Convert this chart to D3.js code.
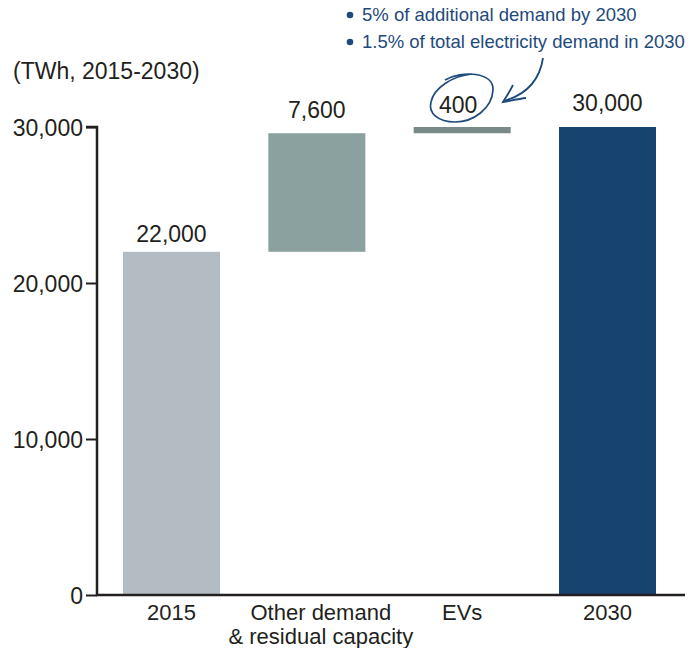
<!DOCTYPE html>
<html>
<head>
<meta charset="utf-8">
<script src="https://cdn.jsdelivr.net/npm/d3@7"></script>
<style>
  body { margin: 0; background: #fff; }
  text { font-family: "Liberation Sans", Arial, sans-serif; }
</style>
</head>
<body>
<div id="chart"></div>
<script>
// waterfall data
var categories = ["2015", "Other demand\n& residual capacity", "EVs", "2030"];
var starts = [0, 22000, 29600, 0];
var ends = [22000, 29600, 30000, 30000];
var labels = ["22,000", "7,600", "400", "30,000"];
var colors = ["#b3bcc2", "#8aa19f", "#788a88", "#174370"];
var yTicks = [0, 10000, 20000, 30000];
var notes = ["5% of additional demand by 2030", "1.5% of total electricity demand in 2030"];

var width = 700, height = 648;
var ink = "#231f20";
var svg = d3.select("#chart").append("svg")
    .attr("width", width)
    .attr("height", height);

var x = d3.scaleBand()
    .domain(categories)
    .range([98, 681])
    .paddingInner(0.3326)
    .paddingOuter(0.172);

var y = d3.scaleLinear()
    .domain([0, 30000])
    .range([595, 127]);

// bars
svg.selectAll("rect.bar")
    .data(categories)
    .enter().append("rect")
    .attr("class", "bar")
    .attr("x", function(d) { return x(d); })
    .attr("width", x.bandwidth())
    .attr("y", function(d, i) { return y(ends[i]); })
    .attr("height", function(d, i) { return y(starts[i]) - y(ends[i]); })
    .attr("fill", function(d, i) { return colors[i]; });

// value labels
var labelGap = [10, 15, 14, 16];
svg.selectAll("text.val")
    .data(categories)
    .enter().append("text")
    .attr("class", "val")
    .attr("x", function(d, i) { return x(d) + x.bandwidth() / 2 - (i === 2 ? 4 : 0); })
    .attr("y", function(d, i) { return y(ends[i]) - labelGap[i]; })
    .attr("text-anchor", "middle")
    .attr("font-size", 23)
    .attr("fill", ink)
    .text(function(d, i) { return labels[i]; });

// y axis
var yAxis = d3.axisLeft(y)
    .tickValues(yTicks)
    .tickSize(11)
    .tickFormat(d3.format(","));
var gy = svg.append("g")
    .attr("transform", "translate(97,0)")
    .call(yAxis);
gy.select(".domain").attr("stroke", ink).attr("stroke-width", 2.5)
    .attr("d", "M-11," + y(30000) + "H0V" + y(0));
gy.selectAll(".tick line").attr("stroke", ink).attr("stroke-width", 2);
gy.selectAll(".tick text")
    .attr("font-size", 23)
    .attr("fill", ink)
    .attr("x", -14)
    .attr("dy", "0.35em")
    .style("font-family", "Liberation Sans, Arial, sans-serif");

// x axis line
svg.append("line")
    .attr("x1", 96).attr("x2", 685)
    .attr("y1", y(0)).attr("y2", y(0))
    .attr("stroke", ink)
    .attr("stroke-width", 2.5);

// category labels
var cat = svg.selectAll("text.cat")
    .data(categories)
    .enter().append("text")
    .attr("class", "cat")
    .attr("x", function(d, i) { return x(d) + x.bandwidth() / 2 + (i === 1 ? 4 : 0); })
    .attr("y", 619.5)
    .attr("text-anchor", "middle")
    .attr("font-size", 22)
    .attr("fill", ink);
cat.selectAll("tspan")
    .data(function(d) { return d.split("\n"); })
    .enter().append("tspan")
    .attr("x", function() { return d3.select(this.parentNode).attr("x"); })
    .attr("dy", function(d, i) { return i ? 24.7 : 0; })
    .text(function(d) { return d; });

// unit label
svg.append("text")
    .attr("x", 13).attr("y", 79)
    .attr("font-size", 23)
    .attr("fill", ink)
    .text("(TWh, 2015-2030)");

// annotation notes
var noteColor = "#1f4a7c";
notes.forEach(function(n, i) {
    svg.append("circle")
        .attr("cx", 350).attr("cy", 15 + i * 27)
        .attr("r", 3.3)
        .attr("fill", noteColor);
    svg.append("text")
        .attr("x", 362).attr("y", 21 + i * 27)
        .attr("font-size", 18.5)
        .attr("fill", noteColor)
        .text(n);
});

// hand-drawn circle around 400
svg.append("path")
    .attr("d", "M445,80 C462,70 494,72 493,90 C492,108 474,122 455,122" +
        " C438,122 428,113 431,102 C434,88 452,76 472,74")
    .attr("fill", "none")
    .attr("stroke", noteColor)
    .attr("stroke-width", 1.7);

// curved arrow
svg.append("path")
    .attr("d", "M543,58 C540,78 528,94 504,101")
    .attr("fill", "none")
    .attr("stroke", noteColor)
    .attr("stroke-width", 1.8);
svg.append("path")
    .attr("d", "M513,85 C509,93 506,97 503,102 C510,101 517,99 526,98")
    .attr("fill", "none")
    .attr("stroke", noteColor)
    .attr("stroke-width", 1.8);
</script>
</body>
</html>
